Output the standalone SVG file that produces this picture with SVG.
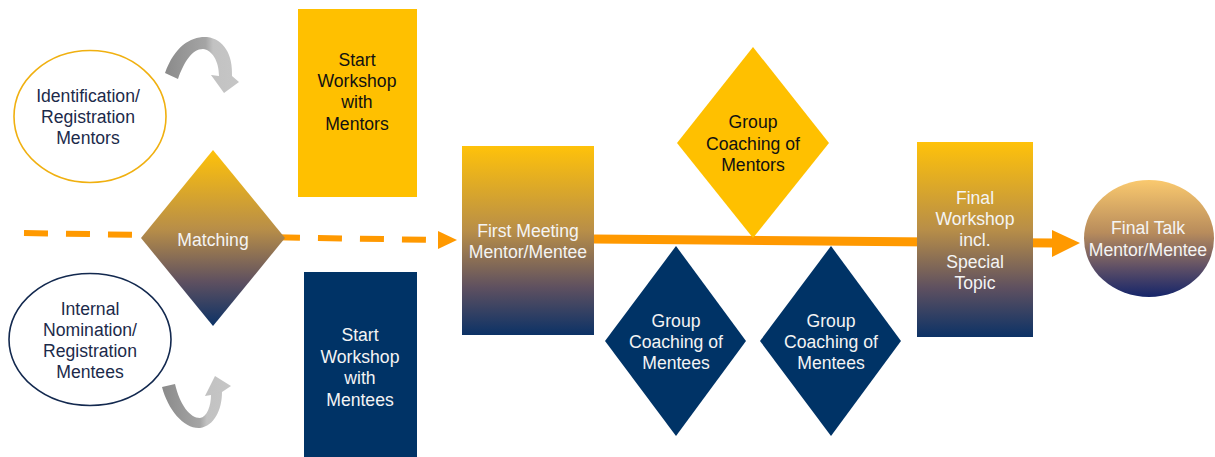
<svg xmlns="http://www.w3.org/2000/svg" width="1215" height="457" viewBox="0 0 1215 457">
<defs>
<linearGradient id="gv" x1="0" y1="0" x2="0" y2="1">
<stop offset="0" stop-color="#FFC20A"/>
<stop offset="0.45" stop-color="#B88E48"/>
<stop offset="0.75" stop-color="#5E5060"/>
<stop offset="1" stop-color="#0C3266"/>
</linearGradient>
<linearGradient id="gt" x1="0" y1="0" x2="0" y2="1">
<stop offset="0" stop-color="#FAC96E"/>
<stop offset="0.45" stop-color="#B88C5C"/>
<stop offset="0.75" stop-color="#5E4F66"/>
<stop offset="1" stop-color="#15256A"/>
</linearGradient>
<linearGradient id="gh" x1="0" y1="0" x2="1" y2="0">
<stop offset="0" stop-color="#8A8A8A"/>
<stop offset="0.55" stop-color="#A5A5A5"/>
<stop offset="0.65" stop-color="#C2C2C2"/>
<stop offset="1" stop-color="#C6C6C6"/>
</linearGradient>
</defs>
<style>
text{font-family:"Liberation Sans",Arial,sans-serif;font-size:17.6px;text-anchor:middle}
.dk{fill:#1C2A4A}
.bk{fill:#111111}
.wh{fill:#F4F4F4}
.yel{fill:#FFC000}
.nav{fill:#003366}
.grad{fill:url(#gv)}
.rot{fill:url(#gh)}
</style>
<rect width="1215" height="457" fill="#FFFFFF"/>
<g id="connectors">
<line x1="24" y1="233" x2="438" y2="240" stroke="#FF9900" stroke-width="6" stroke-dasharray="24 18"/>
<polygon points="438,231 457,240 438,249" fill="#FF9900"/>
<line x1="594" y1="239" x2="1054" y2="243" stroke="#FF9900" stroke-width="9"/>
<polygon points="1052,230 1080,243 1052,257" fill="#FF9900"/>
</g>
<g id="cycle-top">
<path class="rot" d="M165 73 C175 45 192 36 207 37 C224 39 233 55 232 76 L239 82 L224 93 L211 75 L219 76 C219 61 212 50 203 49 C192 49 184 62 178 79 Z"/>
</g>
<g id="cycle-bottom">
<path class="rot" d="M162 387 L175 384 C180 405 190 418 200 418 C207 417 211 406 211 395 L205 396 L215 376 L231 386 L222 392 C222 410 214 426 200 428 C184 429 168 410 162 387 Z"/>
</g>
<g id="id-mentors">
<ellipse cx="90" cy="116.5" rx="76" ry="66" fill="#FFFFFF" stroke="#F0B010" stroke-width="1.6"/>
<text class="dk" x="88" y="102">Identification/</text>
<text class="dk" x="88" y="123">Registration</text>
<text class="dk" x="88" y="144">Mentors</text>
</g>
<g id="id-mentees">
<ellipse cx="90" cy="339.5" rx="81" ry="66" fill="#FFFFFF" stroke="#13294F" stroke-width="1.6"/>
<text class="dk" x="90" y="315">Internal</text>
<text class="dk" x="90" y="336">Nomination/</text>
<text class="dk" x="90" y="357">Registration</text>
<text class="dk" x="90" y="378">Mentees</text>
</g>
<g id="matching">
<polygon class="grad" points="213,150 285,238 213,326 141,238"/>
<text class="wh" x="213" y="246">Matching</text>
</g>
<g id="start-mentors">
<rect class="yel" x="298" y="9" width="119" height="188"/>
<text class="bk" x="357" y="66">Start</text>
<text class="bk" x="357" y="87">Workshop</text>
<text class="bk" x="357" y="108">with</text>
<text class="bk" x="357" y="130">Mentors</text>
</g>
<g id="start-mentees">
<rect class="nav" x="304" y="272" width="113" height="185"/>
<text class="wh" x="360" y="341">Start</text>
<text class="wh" x="360" y="363">Workshop</text>
<text class="wh" x="360" y="384">with</text>
<text class="wh" x="360" y="406">Mentees</text>
</g>
<g id="first-meeting">
<rect class="grad" x="462" y="146" width="132" height="189"/>
<text class="wh" x="528" y="237">First Meeting</text>
<text class="wh" x="528" y="258">Mentor/Mentee</text>
</g>
<g id="coach-mentors">
<polygon class="yel" points="753,47 829,143 753,238 677,143"/>
<text class="bk" x="753" y="128">Group</text>
<text class="bk" x="753" y="150">Coaching of</text>
<text class="bk" x="753" y="171">Mentors</text>
</g>
<g id="coach-mentees-1">
<polygon class="nav" points="676,246 746,341 676,436 605,341"/>
<text class="wh" x="676" y="327">Group</text>
<text class="wh" x="676" y="348">Coaching of</text>
<text class="wh" x="676" y="369">Mentees</text>
</g>
<g id="coach-mentees-2">
<polygon class="nav" points="831,246 901,341 831,436 760,341"/>
<text class="wh" x="831" y="327">Group</text>
<text class="wh" x="831" y="348">Coaching of</text>
<text class="wh" x="831" y="369">Mentees</text>
</g>
<g id="final-workshop">
<rect class="grad" x="917" y="142" width="116" height="195"/>
<text class="wh" x="975" y="204">Final</text>
<text class="wh" x="975" y="225">Workshop</text>
<text class="wh" x="975" y="246">incl.</text>
<text class="wh" x="975" y="268">Special</text>
<text class="wh" x="975" y="289">Topic</text>
</g>
<g id="final-talk">
<ellipse cx="1149" cy="238.5" rx="65" ry="58.5" fill="url(#gt)"/>
<text class="wh" x="1148" y="234">Final Talk</text>
<text class="wh" x="1148" y="256">Mentor/Mentee</text>
</g>
</svg>
